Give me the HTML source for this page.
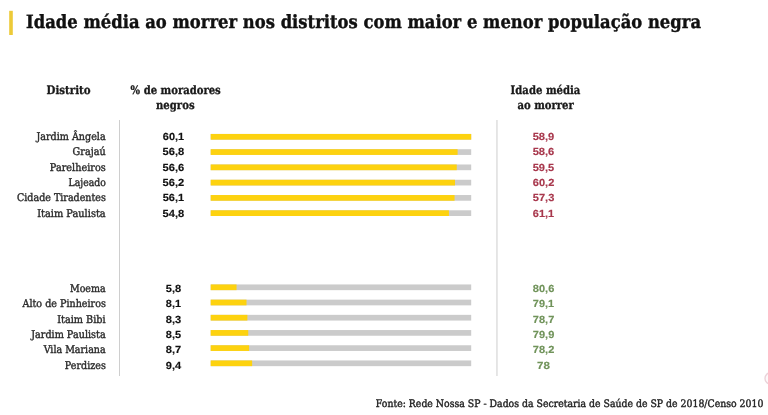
<!DOCTYPE html>
<html lang="pt-BR">
<head>
<meta charset="utf-8">
<title>Idade média ao morrer nos distritos com maior e menor população negra</title>
<style>
html,body{margin:0;padding:0;background:#fff;}
body{width:768px;height:415px;overflow:hidden;}
svg{display:block;}
text{text-rendering:geometricPrecision;white-space:pre;}
.h1{font:bold 18.3px "DejaVu Serif","Liberation Serif",serif;fill:#111;stroke:#111;stroke-width:0.4px;}
.hd{font:bold 11.7px "DejaVu Serif","Liberation Serif",serif;fill:#1a1a1a;stroke:#1a1a1a;stroke-width:0.3px;}
.lab{font:10.6px "DejaVu Serif","Liberation Serif",serif;fill:#2a2a2a;stroke:#2a2a2a;stroke-width:0.4px;}
.val{font:bold 10.3px "Liberation Sans","DejaVu Sans",sans-serif;fill:#111;stroke:#111;stroke-width:0.15px;}
.red{fill:#a8384d;stroke:#a8384d;}
.grn{fill:#70935a;stroke:#70935a;}
.src{font:10.3px "DejaVu Serif","Liberation Serif",serif;fill:#222;stroke:#222;stroke-width:0.4px;}
</style>
</head>
<body>
<svg width="768" height="415" viewBox="0 0 768 415">
<rect width="768" height="415" fill="#fff"/>
<rect x="9.2" y="10.8" width="3.6" height="24.2" fill="#edca38"/>
<rect x="119" y="120" width="1" height="256" fill="#cecece"/>
<rect x="496.4" y="120" width="1.1" height="256" fill="#d2d2d2"/>
<circle cx="770.8" cy="378.4" r="5.8" fill="#fdf8f9" stroke="#ead3d9" stroke-width="1.4"/>
<rect x="210.7" y="133.95" width="260.5" height="5.7" fill="#cbcbcb"/>
<rect x="210.7" y="133.95" width="260.50" height="5.7" fill="#fdd20f"/>
<rect x="210.7" y="149.22" width="260.5" height="5.7" fill="#cbcbcb"/>
<rect x="210.7" y="149.22" width="246.90" height="5.7" fill="#fdd20f"/>
<rect x="210.7" y="164.49" width="260.5" height="5.7" fill="#cbcbcb"/>
<rect x="210.7" y="164.49" width="246.03" height="5.7" fill="#fdd20f"/>
<rect x="210.7" y="179.76" width="260.5" height="5.7" fill="#cbcbcb"/>
<rect x="210.7" y="179.76" width="244.30" height="5.7" fill="#fdd20f"/>
<rect x="210.7" y="195.03" width="260.5" height="5.7" fill="#cbcbcb"/>
<rect x="210.7" y="195.03" width="243.86" height="5.7" fill="#fdd20f"/>
<rect x="210.7" y="210.30" width="260.5" height="5.7" fill="#cbcbcb"/>
<rect x="210.7" y="210.30" width="238.23" height="5.7" fill="#fdd20f"/>
<rect x="210.7" y="284.45" width="260.5" height="5.7" fill="#cbcbcb"/>
<rect x="210.7" y="284.45" width="25.84" height="5.7" fill="#fdd20f"/>
<rect x="210.7" y="299.65" width="260.5" height="5.7" fill="#cbcbcb"/>
<rect x="210.7" y="299.65" width="35.81" height="5.7" fill="#fdd20f"/>
<rect x="210.7" y="314.85" width="260.5" height="5.7" fill="#cbcbcb"/>
<rect x="210.7" y="314.85" width="36.68" height="5.7" fill="#fdd20f"/>
<rect x="210.7" y="330.05" width="260.5" height="5.7" fill="#cbcbcb"/>
<rect x="210.7" y="330.05" width="37.54" height="5.7" fill="#fdd20f"/>
<rect x="210.7" y="345.25" width="260.5" height="5.7" fill="#cbcbcb"/>
<rect x="210.7" y="345.25" width="38.41" height="5.7" fill="#fdd20f"/>
<rect x="210.7" y="360.45" width="260.5" height="5.7" fill="#cbcbcb"/>
<rect x="210.7" y="360.45" width="41.44" height="5.7" fill="#fdd20f"/>
<text id="h1" class="h1" x="26.06" y="28.15" textLength="674.99" lengthAdjust="spacingAndGlyphs">Idade média ao morrer nos distritos com maior e menor população negra</text>
<text id="hd1" class="hd" x="46.56" y="93.75" textLength="44.06" lengthAdjust="spacingAndGlyphs">Distrito</text>
<text id="hd2a" class="hd" x="130.62" y="93.75" textLength="90.13" lengthAdjust="spacingAndGlyphs">% de moradores</text>
<text id="hd2b" class="hd" x="156.00" y="108.95" textLength="38.60" lengthAdjust="spacingAndGlyphs">negros</text>
<text id="hd3a" class="hd" x="510.59" y="93.75" textLength="69.83" lengthAdjust="spacingAndGlyphs">Idade média</text>
<text id="hd3b" class="hd" x="517.52" y="108.95" textLength="56.28" lengthAdjust="spacingAndGlyphs">ao morrer</text>
<text id="src" class="src" x="375.80" y="407.35" textLength="387.59" lengthAdjust="spacingAndGlyphs">Fonte: Rede Nossa SP - Dados da Secretaria de Saúde de SP de 2018/Censo 2010</text>
<text id="l00" class="lab" x="36.44" y="140.00" textLength="69.16" lengthAdjust="spacingAndGlyphs">Jardim Ângela</text>
<text id="v00" class="val" x="162.85" y="140.00" textLength="21.36" lengthAdjust="spacingAndGlyphs">60,1</text>
<text id="r00" class="val red" x="532.65" y="140.00" textLength="21.65" lengthAdjust="spacingAndGlyphs">58,9</text>
<text id="l01" class="lab" x="72.62" y="155.33" textLength="33.03" lengthAdjust="spacingAndGlyphs">Grajaú</text>
<text id="v01" class="val" x="162.64" y="155.33" textLength="21.64" lengthAdjust="spacingAndGlyphs">56,8</text>
<text id="r01" class="val red" x="532.65" y="155.33" textLength="21.67" lengthAdjust="spacingAndGlyphs">58,6</text>
<text id="l02" class="lab" x="49.83" y="170.66" textLength="55.95" lengthAdjust="spacingAndGlyphs">Parelheiros</text>
<text id="v02" class="val" x="162.60" y="170.66" textLength="21.73" lengthAdjust="spacingAndGlyphs">56,6</text>
<text id="r02" class="val red" x="532.68" y="170.66" textLength="21.51" lengthAdjust="spacingAndGlyphs">59,5</text>
<text id="l03" class="lab" x="68.60" y="185.99" textLength="37.22" lengthAdjust="spacingAndGlyphs">Lajeado</text>
<text id="v03" class="val" x="162.64" y="185.99" textLength="21.69" lengthAdjust="spacingAndGlyphs">56,2</text>
<text id="r03" class="val red" x="532.81" y="185.99" textLength="21.48" lengthAdjust="spacingAndGlyphs">60,2</text>
<text id="l04" class="lab" x="17.02" y="201.32" textLength="88.86" lengthAdjust="spacingAndGlyphs">Cidade Tiradentes</text>
<text id="v04" class="val" x="162.70" y="201.32" textLength="21.39" lengthAdjust="spacingAndGlyphs">56,1</text>
<text id="r04" class="val red" x="532.74" y="201.32" textLength="21.56" lengthAdjust="spacingAndGlyphs">57,3</text>
<text id="l05" class="lab" x="37.18" y="216.65" textLength="68.50" lengthAdjust="spacingAndGlyphs">Itaim Paulista</text>
<text id="v05" class="val" x="162.64" y="216.65" textLength="21.64" lengthAdjust="spacingAndGlyphs">54,8</text>
<text id="r05" class="val red" x="532.80" y="216.65" textLength="21.30" lengthAdjust="spacingAndGlyphs">61,1</text>
<text id="l10" class="lab" x="69.98" y="292.00" textLength="35.64" lengthAdjust="spacingAndGlyphs">Moema</text>
<text id="v10" class="val" x="165.78" y="292.00" textLength="15.36" lengthAdjust="spacingAndGlyphs">5,8</text>
<text id="r10" class="val grn" x="532.83" y="292.00" textLength="21.46" lengthAdjust="spacingAndGlyphs">80,6</text>
<text id="l11" class="lab" x="22.49" y="307.35" textLength="83.35" lengthAdjust="spacingAndGlyphs">Alto de Pinheiros</text>
<text id="v11" class="val" x="165.83" y="307.35" textLength="15.13" lengthAdjust="spacingAndGlyphs">8,1</text>
<text id="r11" class="val grn" x="532.86" y="307.35" textLength="21.20" lengthAdjust="spacingAndGlyphs">79,1</text>
<text id="l12" class="lab" x="57.27" y="322.70" textLength="48.35" lengthAdjust="spacingAndGlyphs">Itaim Bibi</text>
<text id="v12" class="val" x="165.83" y="322.70" textLength="15.44" lengthAdjust="spacingAndGlyphs">8,3</text>
<text id="r12" class="val grn" x="532.86" y="322.70" textLength="21.38" lengthAdjust="spacingAndGlyphs">78,7</text>
<text id="l13" class="lab" x="31.16" y="338.05" textLength="74.51" lengthAdjust="spacingAndGlyphs">Jardim Paulista</text>
<text id="v13" class="val" x="165.83" y="338.05" textLength="15.22" lengthAdjust="spacingAndGlyphs">8,5</text>
<text id="r13" class="val grn" x="532.86" y="338.05" textLength="21.41" lengthAdjust="spacingAndGlyphs">79,9</text>
<text id="l14" class="lab" x="43.63" y="353.40" textLength="62.01" lengthAdjust="spacingAndGlyphs">Vila Mariana</text>
<text id="v14" class="val" x="165.84" y="353.40" textLength="15.41" lengthAdjust="spacingAndGlyphs">8,7</text>
<text id="r14" class="val grn" x="532.86" y="353.40" textLength="21.39" lengthAdjust="spacingAndGlyphs">78,2</text>
<text id="l15" class="lab" x="64.82" y="368.75" textLength="41.03" lengthAdjust="spacingAndGlyphs">Perdizes</text>
<text id="v15" class="val" x="165.84" y="368.75" textLength="15.33" lengthAdjust="spacingAndGlyphs">9,4</text>
<text id="r15" class="val grn" x="537.07" y="368.75" textLength="12.82" lengthAdjust="spacingAndGlyphs">78</text>
</svg>
</body>
</html>
